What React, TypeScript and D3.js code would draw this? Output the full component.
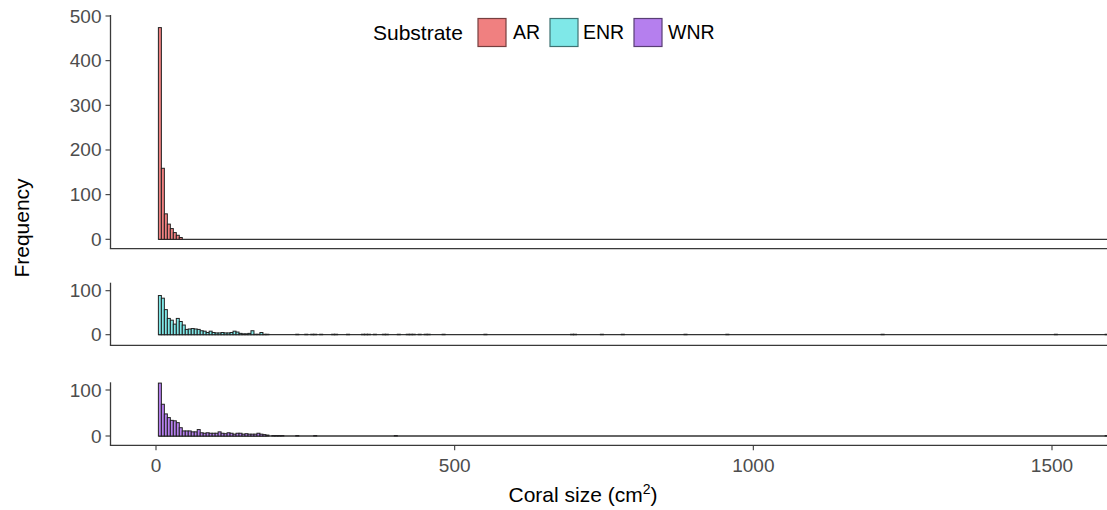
import React from 'react';
import * as d3 from 'd3';

// Histogram of coral colony size per substrate, 5 cm² bins starting at 4 cm²
const BIN_START = 4;
const BIN_WIDTH = 5;

const SUBSTRATES = ['AR', 'ENR', 'WNR'];
const FILLS = ['#F08080', '#7FE8E8', '#B57FEE'];

// Dense counts for the first bins (bin i covers [4 + 5i, 9 + 5i))
const AR_COUNTS = [474, 159, 57, 34, 24, 15, 9, 4];
const ENR_COUNTS = [
  89, 83, 57, 37, 33, 24, 37, 30, 22, 12, 13, 14, 13, 12, 9, 8, 5, 8, 5, 4,
  4, 5, 4, 4, 5, 8, 6, 3, 2, 2, 3, 9, 1, 1, 5, 1, 1,
];
const WNR_COUNTS = [
  115, 69, 48, 40, 34, 33, 29, 18, 11, 11, 11, 9, 9, 14, 7, 6, 7, 6, 6, 6,
  9, 6, 5, 7, 6, 4, 6, 6, 4, 5, 4, 4, 4, 6, 4, 3, 2, 0, 1, 1, 1, 1,
];

// Individual large colonies (cm²) beyond the dense part of each distribution
const AR_LARGE: number[] = [];
const ENR_LARGE = [
  236, 249, 261, 268, 277, 294, 299, 319, 344, 349, 358, 366, 379, 384, 404,
  419, 424, 429, 439, 449, 457, 479, 549, 694, 699, 744, 779, 884, 954, 1214,
  1504, 1589,
];
const WNR_LARGE = [236, 264, 399, 1589];

const Y_TICKS_AR = [0, 100, 200, 300, 400, 500];
const Y_TICKS_SMALL = [0, 100];
const X_TICKS = [0, 500, 1000, 1500];

const WIDTH = 1107;
const HEIGHT = 510;
const AXIS_X = 110.5;
const FONT = '"Liberation Sans", Arial, Helvetica, sans-serif';
const TICK_COLOR = '#4d4d4d';
const LINE_COLOR = '#3a3a3a';
const BAR_STROKE = '#222';

const x = d3.scaleLinear().domain([0, 1500]).range([156, 1052]);

type Panel = {
  name: string;
  fill: string;
  counts: number[];
  large: number[];
  ticks: number[];
  y: d3.ScaleLinear<number, number>;
  top: number;
  bottom: number;
};

function binCounts(counts: number[], large: number[]) {
  const m = new Map<number, number>();
  counts.forEach((c, i) => {
    if (c > 0) m.set(i, c);
  });
  large.forEach((v) => {
    const i = Math.floor((v - BIN_START) / BIN_WIDTH);
    m.set(i, (m.get(i) || 0) + 1);
  });
  return Array.from(m.entries()).map(([i, c]) => ({ i, c }));
}

const panels: Panel[] = [
  {
    name: SUBSTRATES[0],
    fill: FILLS[0],
    counts: AR_COUNTS,
    large: AR_LARGE,
    ticks: Y_TICKS_AR,
    y: d3.scaleLinear().domain([0, 500]).range([239.3, 16]),
    top: 15,
    bottom: 248.7,
  },
  {
    name: SUBSTRATES[1],
    fill: FILLS[1],
    counts: ENR_COUNTS,
    large: ENR_LARGE,
    ticks: Y_TICKS_SMALL,
    y: d3.scaleLinear().domain([0, 100]).range([334.7, 290.7]),
    top: 282.7,
    bottom: 345.3,
  },
  {
    name: SUBSTRATES[2],
    fill: FILLS[2],
    counts: WNR_COUNTS,
    large: WNR_LARGE,
    ticks: Y_TICKS_SMALL,
    y: d3.scaleLinear().domain([0, 100]).range([436, 390]),
    top: 382.3,
    bottom: 445.3,
  },
];

const legendItems = [
  { label: SUBSTRATES[0], fill: FILLS[0], key: 478, text: 513 },
  { label: SUBSTRATES[1], fill: FILLS[1], key: 550, text: 583 },
  { label: SUBSTRATES[2], fill: FILLS[2], key: 634, text: 668 },
];

export default function App() {
  const bw = x(BIN_WIDTH) - x(0);
  const lastPanel = panels[panels.length - 1];
  return (
    <svg
      width={WIDTH}
      height={HEIGHT}
      style={{ position: 'absolute', left: 0, top: 0, background: '#fff' }}
      fontFamily={FONT}
    >
      <defs>
        <clipPath id="plotClip">
          <rect x={AXIS_X} y={0} width={WIDTH - AXIS_X} height={HEIGHT} />
        </clipPath>
      </defs>
      {panels.map((p) => {
        const bins = binCounts(p.counts, p.large);
        const y0 = p.y(0);
        return (
          <g key={p.name}>
            <g clipPath="url(#plotClip)">
              <line
                x1={x(BIN_START)}
                x2={WIDTH}
                y1={y0}
                y2={y0}
                stroke="#333"
                strokeWidth={1.3}
              />
              {bins.map(({ i, c }) => {
                const x0 = x(BIN_START + i * BIN_WIDTH);
                return (
                  <rect
                    key={i}
                    x={x0}
                    y={p.y(c)}
                    width={bw}
                    height={y0 - p.y(c)}
                    fill={p.fill}
                    stroke={BAR_STROKE}
                    strokeWidth={1}
                  />
                );
              })}
            </g>
            {/* axes */}
            <line x1={AXIS_X} x2={AXIS_X} y1={p.top} y2={p.bottom} stroke={LINE_COLOR} strokeWidth={1.3} />
            <line x1={AXIS_X - 0.65} x2={WIDTH} y1={p.bottom} y2={p.bottom} stroke={LINE_COLOR} strokeWidth={1.3} />
            {p.ticks.map((t) => (
              <g key={t}>
                <line x1={AXIS_X - 5} x2={AXIS_X} y1={p.y(t)} y2={p.y(t)} stroke={LINE_COLOR} strokeWidth={1.1} />
                <text
                  x={AXIS_X - 9}
                  y={p.y(t)}
                  textAnchor="end"
                  dominantBaseline="central"
                  fontSize={19}
                  fill={TICK_COLOR}
                >
                  {t}
                </text>
              </g>
            ))}
          </g>
        );
      })}
      {X_TICKS.map((t) => (
        <g key={t}>
          <line x1={x(t)} x2={x(t)} y1={lastPanel.bottom} y2={lastPanel.bottom + 5} stroke={LINE_COLOR} strokeWidth={1.1} />
          <text x={x(t)} y={472} textAnchor="middle" fontSize={19} fill={TICK_COLOR}>
            {t}
          </text>
        </g>
      ))}
      <text x={583} y={502} textAnchor="middle" fontSize={21} fill="#000">
        Coral size (cm
        <tspan dy={-8} fontSize={14}>2</tspan>
        <tspan dy={8}>)</tspan>
      </text>
      <text
        transform={`translate(29,228) rotate(-90)`}
        textAnchor="middle"
        fontSize={21}
        fill="#000"
      >
        Frequency
      </text>
      {/* legend */}
      <text x={373} y={32} dominantBaseline="central" fontSize={21} fill="#000">
        Substrate
      </text>
      {legendItems.map((l) => (
        <g key={l.label}>
          <rect
            x={l.key}
            y={18.5}
            width={28}
            height={28}
            fill={l.fill}
            stroke={d3.color(l.fill)!.darker(2).formatHex()}
            strokeWidth={1.2}
          />
          <text x={l.text} y={32} dominantBaseline="central" fontSize={19.5} fill="#000">
            {l.label}
          </text>
        </g>
      ))}
    </svg>
  );
}
